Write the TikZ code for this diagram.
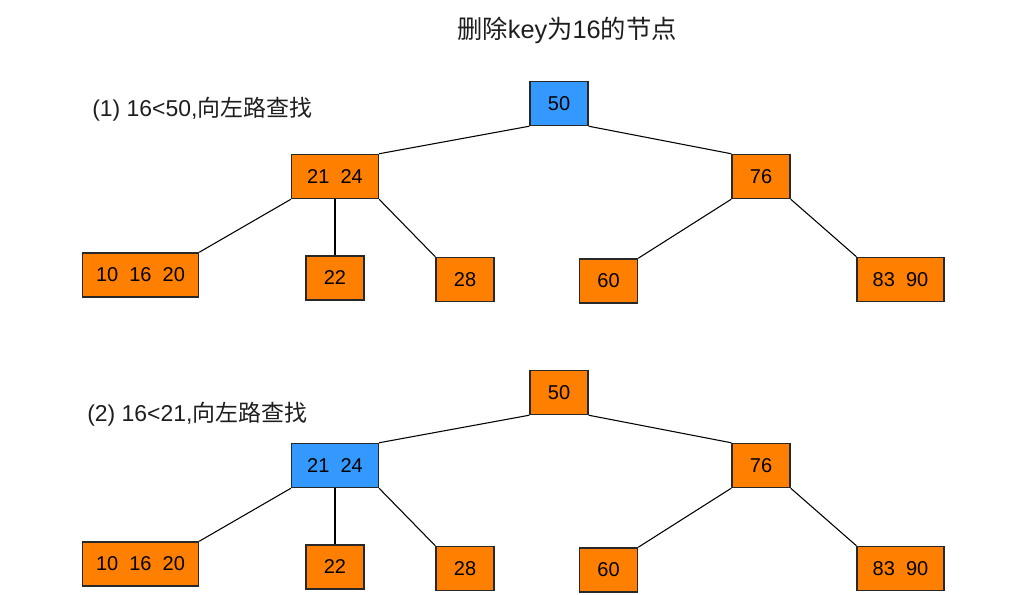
\documentclass[tikz,border=0pt]{standalone}
\usepackage{fontspec}
\setmainfont{Liberation Sans}
\newfontfamily\cjk{Noto Sans CJK SC}
\usepackage{xcolor}
\definecolor{nodeorange}{RGB}{255,128,0}
\definecolor{nodeblue}{RGB}{51,153,255}
\definecolor{nodeline}{RGB}{40,40,40}
\definecolor{notetext}{RGB}{30,30,30}
\usetikzlibrary{positioning}

\begin{document}
\begin{tikzpicture}[
  x=0.75pt, y=-0.75pt,
  key/.style={draw=nodeline, line width=1.1pt, fill=nodeorange, minimum width=43.5pt, minimum height=33pt, inner sep=0pt, align=center, font=\fontsize{15}{17}\selectfont},
  keytwo/.style={key, minimum width=65pt},
  keythree/.style={key, minimum width=87pt},
  hit/.style={fill=nodeblue},
  edge/.style={draw=black, line width=0.8pt},
  note/.style={anchor=west, inner sep=0pt, text=notetext, font=\fontsize{17.2}{20}\selectfont}
]
  \useasboundingbox (0,0) rectangle (1025,595);

  %% Title
  \node[inner sep=0pt, text=notetext, font=\fontsize{19}{22}\selectfont] (title) at (567,30) {{\cjk 删除}key{\cjk 为}16{\cjk 的节点}};

  %% Step 1: compare with root
  \node[note] (s1) at (92,109) {(1) 16<50,{\cjk 向左路查找}};
  \node[key, hit]  (a50)    at (559,103.5) {50};
  \node[keytwo]    (a2124)  at (335,176.5) {21\ \ 24};
  \node[key]       (a76)    at (761,176.5) {76};
  \node[keythree]  (a101620) at (140.5,275) {10\ \ 16\ \ 20};
  \node[key]       (a22)    at (335,278)   {22};
  \node[key]       (a28)    at (465,279.5) {28};
  \node[key]       (a60)    at (608.5,281) {60};
  \node[keytwo]    (a8390)  at (900.5,279.5) {83\ \ 90};

  \draw[edge] (a50.south west) -- (a2124.north east);
  \draw[edge] (a50.south east) -- (a76.north west);
  \draw[edge] (a2124.south west) -- (a101620.north east);
  \draw[edge] (a2124.south) -- (a22.north);
  \draw[edge] (a2124.south east) -- (a28.north west);
  \draw[edge] (a76.south west) -- (a60.north east);
  \draw[edge] (a76.south east) -- (a8390.north west);

  %% Step 2: compare with 21 24
  \node[note] (s2) at (87,414) {(2) 16<21,{\cjk 向左路查找}};
  \node[key]       (b50)    at (559,392.5) {50};
  \node[keytwo, hit] (b2124) at (335,465.5) {21\ \ 24};
  \node[key]       (b76)    at (761,465.5) {76};
  \node[keythree]  (b101620) at (140.5,564) {10\ \ 16\ \ 20};
  \node[key]       (b22)    at (335,567)   {22};
  \node[key]       (b28)    at (465,568.5) {28};
  \node[key]       (b60)    at (608.5,570) {60};
  \node[keytwo]    (b8390)  at (900.5,568.5) {83\ \ 90};

  \draw[edge] (b50.south west) -- (b2124.north east);
  \draw[edge] (b50.south east) -- (b76.north west);
  \draw[edge] (b2124.south west) -- (b101620.north east);
  \draw[edge] (b2124.south) -- (b22.north);
  \draw[edge] (b2124.south east) -- (b28.north west);
  \draw[edge] (b76.south west) -- (b60.north east);
  \draw[edge] (b76.south east) -- (b8390.north west);
\end{tikzpicture}
\end{document}
